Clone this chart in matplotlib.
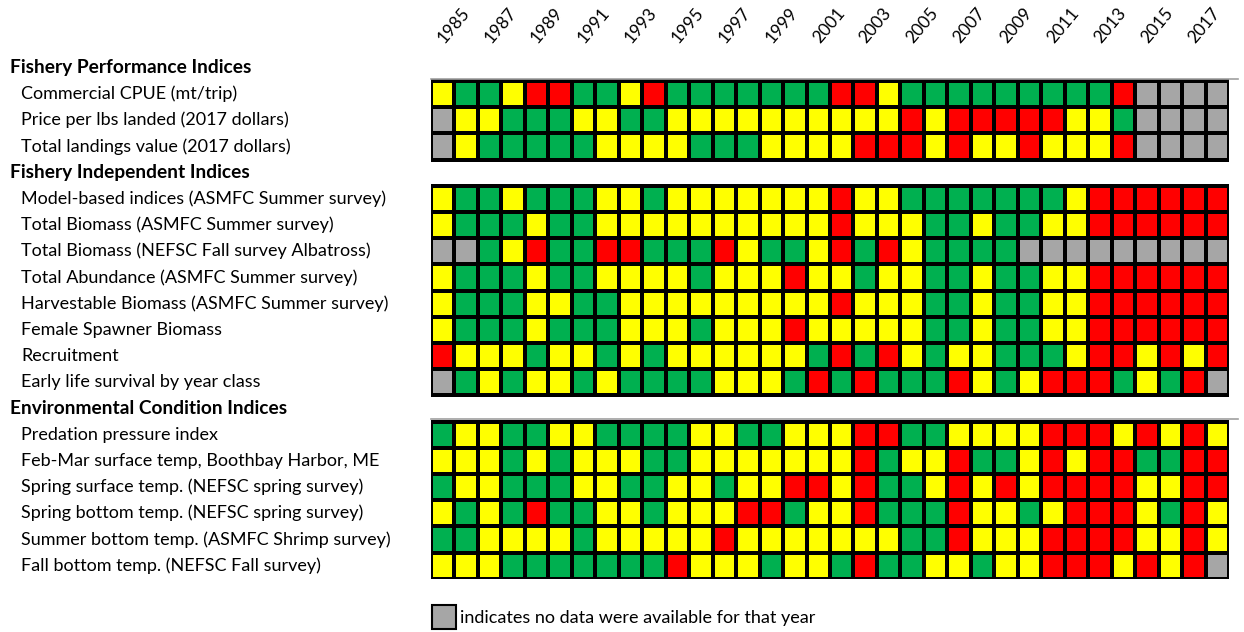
import matplotlib
matplotlib.use("Agg")
import matplotlib.pyplot as plt
import matplotlib.transforms as mtransforms
from matplotlib.colors import ListedColormap
from matplotlib.patches import Patch
import numpy as np

plt.rcParams['font.family'] = ['Lato', 'DejaVu Sans']

# G = good (green), Y = neutral (yellow), R = poor (red), N = no data (grey)
years = list(range(1985, 2019))

perf_labels = ['Commercial CPUE (mt/trip)',
               'Price per lbs landed (2017 dollars)',
               'Total landings value (2017 dollars)']
perf_rows = ['YGGYRRGGYRGGGGGGGRRYGGGGGGGGGRNNNN',
             'NYYGGGYYGGYYYYYYYYYYRYRRRRRYYGNNNN',
             'NYGGGGGYYYYGGGYYYYRRRYRYYRYYYRNNNN']

indep_labels = ['Model-based indices (ASMFC Summer survey)',
                'Total Biomass (ASMFC Summer survey)',
                'Total Biomass (NEFSC Fall survey Albatross)',
                'Total Abundance (ASMFC Summer survey)',
                'Harvestable Biomass (ASMFC Summer survey)',
                'Female Spawner Biomass',
                'Recruitment',
                'Early life survival by year class']
indep_rows = ['YGGYGGGYYGYYYYYYYRYYGGGGGGGYRRRRRR',
              'YGGGYGGYYYYYYYYYYRYYYGGYGGYYRRRRRR',
              'NNGYRGGRRGGGRYGGYRGRYGGGGNNNNNNNNN',
              'YGGGYGGYYYYGYYYRYYGYYGGYGGYYRRRRRR',
              'YGGGYYGGYYYYYYYYYRYYYGGYGGYYRRRRRR',
              'YGGGYGGGYYYGYYYRYYYYYGGYGGYYRRRRRR',
              'RYYYGYYGYGYYYYYYGRGRYGYYGGGYRRYRYR',
              'NGYGYYGYGGGGYYYGRGRGGGRYGYRRRGYGRN']

env_labels = ['Predation pressure index',
              'Feb-Mar surface temp, Boothbay Harbor, ME',
              'Spring surface temp. (NEFSC spring survey)',
              'Spring bottom temp. (NEFSC spring survey)',
              'Summer bottom temp. (ASMFC Shrimp survey)',
              'Fall bottom temp. (NEFSC Fall survey)']
env_rows = ['GYYGGYYGGGGYYGGYYYRRGGYYYYRRRYRYRY',
            'YYYGYGYYYGGYYYYYYYRGYYRGGYRYRRGGRR',
            'GYYGGGYYGGYYGYYRRYRGGYRYRYRRRRYYRR',
            'YGYGRGGYYGYYYRRGYYRGGGRYYGYRRRYGRY',
            'GGYYYYGYYYYYRYYYYYYYGGRYYYRRRRYYRY',
            'YYYGGGGGGGRYYYGYYGRGGYYGYYRRRYRYRN']

sections = [('Fishery Performance Indices', perf_labels, perf_rows),
            ('Fishery Independent Indices', indep_labels, indep_rows),
            ('Environmental Condition Indices', env_labels, env_rows)]

codes = {'G': 0, 'Y': 1, 'R': 2, 'N': 3}
cmap = ListedColormap(['#00B050', '#FFFF00', '#FF0000', '#A6A6A6'])

fig = plt.figure(figsize=(12.44, 6.32), dpi=100)
ax = fig.add_axes([431/1244, 1 - 578.7/632, 798/1244, 524/632])

ncol = len(years)
nrow = sum(1 + len(s[1]) for s in sections)
ax.set_xlim(0, ncol)
ax.set_ylim(nrow, 0)

lab_tr = mtransforms.blended_transform_factory(fig.transFigure, ax.transData)

row = 0
for header, labels, rows in sections:
    fig.text(10/1244, row + 0.5, header, transform=lab_tr, va='center',
             ha='left', fontsize=13.8, fontweight='bold')
    top = row + 1
    z = np.array([[codes[c] for c in r] for r in rows])
    xe = np.arange(ncol + 1)
    ye = np.arange(top, top + len(rows) + 1)
    ax.pcolormesh(xe, ye, z, cmap=cmap, vmin=-0.5, vmax=3.5,
                  edgecolors='black', linewidth=1.6)
    for i, lab in enumerate(labels):
        fig.text(21/1244, top + i + 0.5, lab, transform=lab_tr, va='center',
                 ha='left', fontsize=13.0)
    row = top + len(rows)

# thin grey separators above first and last block
for y in [1, 14]:
    ax.plot([0, ncol + 0.4], [y - 0.08, y - 0.08], color='#A0A0A0', lw=1.2,
            clip_on=False)

ax.xaxis.tick_top()
ax.set_xticks(np.arange(0, ncol, 2) + 0.4)
ax.set_xticklabels([str(y) for y in years[::2]], rotation=50, ha='left',
                   va='center', rotation_mode='anchor', fontsize=12.5)
ax.tick_params(axis='x', length=0, pad=10)
ax.set_yticks([])
for s in ax.spines.values():
    s.set_visible(False)

fig.legend(handles=[Patch(facecolor='#A6A6A6', edgecolor='black', linewidth=1.5)],
           labels=['indicates no data were available for that year'],
           loc='center left', bbox_to_anchor=(432/1244, 1 - 617/632),
           frameon=False, handlelength=1.35, handleheight=1.6,
           handletextpad=0.2, borderpad=0, borderaxespad=0, fontsize=13.0)

fig.savefig('out.png', dpi=100)
